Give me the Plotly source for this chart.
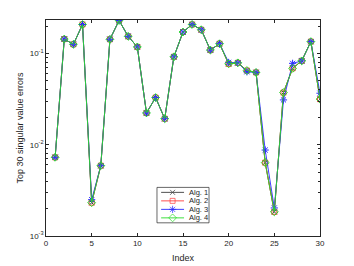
import plotly.graph_objects as go

index = list(range(1, 31))
alg1 = [0.00728, 0.144, 0.126, 0.208, 0.00232, 0.0059, 0.143, 0.23, 0.154, 0.118,
        0.0223, 0.0329, 0.0193, 0.092, 0.172, 0.208, 0.182, 0.109, 0.128, 0.077,
        0.079, 0.065, 0.062, 0.00637, 0.00184, 0.0373, 0.0687, 0.083, 0.135, 0.0316]
alg2 = list(alg1)
alg3 = [0.00728, 0.144, 0.126, 0.208, 0.0025, 0.0059, 0.143, 0.23, 0.154, 0.118,
        0.0223, 0.0329, 0.0193, 0.092, 0.172, 0.208, 0.182, 0.109, 0.128, 0.0798,
        0.079, 0.063, 0.062, 0.00875, 0.00203, 0.031, 0.078, 0.083, 0.135, 0.0367]
alg4 = list(alg1)

names = ["Alg. 1", "Alg. 2", "Alg. 3", "Alg. 4"]
colors = ["rgb(60,60,60)", "rgb(255,60,60)", "rgb(40,40,255)", "rgb(40,220,40)"]
symbols = ["x-thin", "square-open", "asterisk-open", "diamond-open"]
sizes = [5, 5, 6, 6]
data = [alg1, alg2, alg3, alg4]

fig = go.Figure()
for name, vals, col, sym, sz in zip(names, data, colors, symbols, sizes):
    fig.add_trace(go.Scatter(
        x=index, y=vals, name=name, mode="lines+markers", showlegend=False,
        line=dict(color=col, width=0.9),
        marker=dict(symbol=sym, size=sz, color=col, line=dict(color=col, width=1)),
    ))

# compact legend drawn in its own small axes
rows = [0.86, 0.62, 0.38, 0.14]
for name, col, sym, sz, ry in zip(names, colors, symbols, sizes, rows):
    fig.add_trace(go.Scatter(
        x=[0.08, 0.3, 0.52], y=[ry, ry, ry], mode="lines+markers", showlegend=False,
        xaxis="x2", yaxis="y2", hoverinfo="skip",
        line=dict(color=col, width=0.9),
        marker=dict(symbol=sym, size=[0, sz, 0], color=col, line=dict(color=col, width=1)),
    ))
    fig.add_annotation(x=0.58, y=ry, xref="x2", yref="y2", text=name, showarrow=False,
                       xanchor="left", yanchor="middle", font=dict(size=7.5))

minor_vals = [m * 10 ** e for e in (-3, -2, -1) for m in range(2, 10)]

# the page body has an 8px default margin, so the figure is shrunk by 8px
fig.update_layout(
    width=346, height=258,
    margin=dict(l=38, r=34, t=12, b=30, autoexpand=False),
    paper_bgcolor="white", plot_bgcolor="white",
    font=dict(family="Liberation Sans, Arial, sans-serif", size=8, color="rgb(38,38,38)"),
    showlegend=False,
    xaxis2=dict(domain=[0.405, 0.595], range=[0, 1], anchor="y2", visible=False, fixedrange=True),
    yaxis2=dict(domain=[0.061, 0.225], range=[0, 1], anchor="x2", visible=False, fixedrange=True),
    shapes=[
        dict(type="rect", xref="x2 domain", yref="y2 domain", x0=0, x1=1, y0=0, y1=1,
             line=dict(width=0), fillcolor="white", layer="below"),
        dict(type="rect", xref="x2 domain", yref="y2 domain", x0=0, x1=1, y0=0, y1=1,
             line=dict(color="rgb(38,38,38)", width=0.7), fillcolor="rgba(0,0,0,0)",
             layer="above"),
    ],
    xaxis=dict(
        range=[0, 30], tickvals=[0, 5, 10, 15, 20, 25, 30],
        ticks="inside", ticklen=3, tickcolor="rgb(38,38,38)",
        showline=True, linecolor="rgb(38,38,38)", linewidth=0.6, mirror="ticks",
        showgrid=False, zeroline=False,
        title=dict(text="Index", font=dict(size=9), standoff=7),
    ),
    yaxis=dict(
        type="log", range=[-3, -0.633],
        tickvals=[0.001, 0.01, 0.1],
        ticktext=["10<sup>-3</sup>", "10<sup>-2</sup>", "10<sup>-1</sup>"],
        ticks="inside", ticklen=3, tickcolor="rgb(38,38,38)",
        minor=dict(tickvals=minor_vals, ticks="inside", ticklen=2, tickcolor="rgb(38,38,38)"),
        showline=True, linecolor="rgb(38,38,38)", linewidth=0.6, mirror="ticks",
        showgrid=False, zeroline=False,
        title=dict(text="Top 30 singular value errors", font=dict(size=9), standoff=4),
    ),
)

fig.write_html("out.html")
